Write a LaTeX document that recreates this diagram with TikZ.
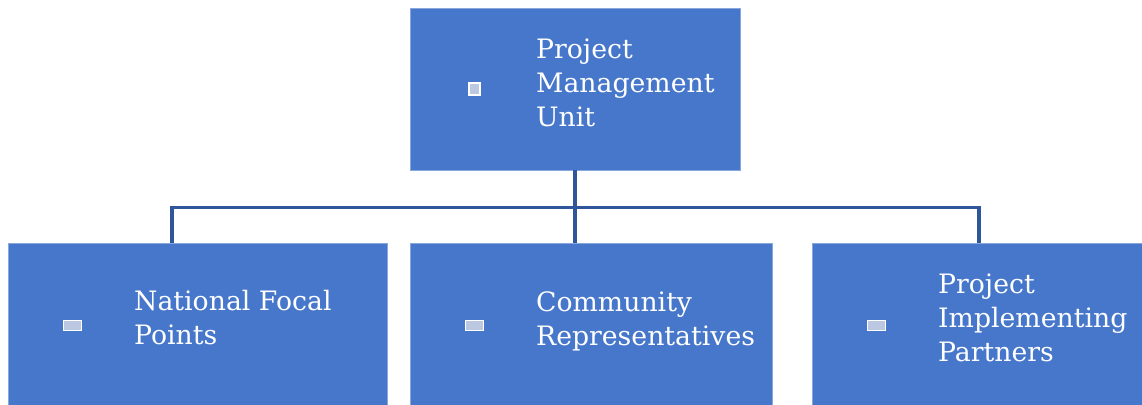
\documentclass[tikz,border=0pt]{standalone}
\usepackage{fontspec}
\setmainfont{DejaVu Serif}
\usetikzlibrary{calc}
\definecolor{unitblue}{HTML}{4677CA}
\definecolor{linkblue}{HTML}{2F559A}
\definecolor{markfill}{HTML}{BCC7E2}

\tikzset{
    unit/.style = {rectangle, draw=unitblue!65!white, line width=0.6pt, fill=unitblue, inner sep=0pt},
    unittext/.style = {text=white, align=left, anchor=west, inner sep=0pt, font=\fontsize{19pt}{24.2pt}\selectfont},
    bulletbox/.style = {rectangle, draw=white, line width=1.1pt, fill=markfill, inner sep=0pt},
    link/.style = {draw=linkblue, line width=2.2pt}
}

\begin{document}
\begin{tikzpicture}[thick]
        \useasboundingbox (0,0) rectangle (28.55,10.1);

        \node[unit, minimum width=8.25cm, minimum height=4.05cm] at (14.375,7.875) (pmu) {};
        \node[unit, minimum width=9.475cm, minimum height=4.125cm] at (4.9375,1.9625) (nfp) {};
        \node[unit, minimum width=9.05cm, minimum height=4.125cm] at (14.775,1.9625) (com) {};
        \node[unit, minimum width=8.35cm, minimum height=4.125cm] at (24.475,1.9625) (pip) {};

        \node[bulletbox, minimum width=0.275cm, minimum height=0.3cm] at ($(pmu.west) + (1.625,0)$) (pmub) {};
        \node[bulletbox, minimum width=0.45cm, minimum height=0.25cm] at ($(nfp.west) + (1.625,0)$) (nfpb) {};
        \node[bulletbox, minimum width=0.45cm, minimum height=0.25cm] at ($(com.west) + (1.625,0)$) (comb) {};
        \node[bulletbox, minimum width=0.45cm, minimum height=0.25cm] at ($(pip.west) + (1.625,0)$) (pipb) {};

        \node[unittext] at ($(pmu.west) + (3.15,0.15)$) (pmut) {Project\\Management\\Unit};
        \node[unittext] at ($(nfp.west) + (3.15,0.19)$) (nfpt) {National Focal\\Points};
        \node[unittext] at ($(com.west) + (3.15,0.11)$) (comt) {Community\\Representatives};
        \node[unittext] at ($(pip.west) + (3.15,0.19)$) (pipt) {Project\\Implementing\\Partners};

        \coordinate (bus) at ($(pmu.south) + (0,-0.925)$);
        \draw[link] (pmu.south) -- (bus);
        \draw[link] (bus) -| ($(nfp.north) + (-0.6375,0)$);
        \draw[link] (bus) -- (bus |- com.north);
        \draw[link] (bus) -| (pip.north);
    \end{tikzpicture}
\end{document}
